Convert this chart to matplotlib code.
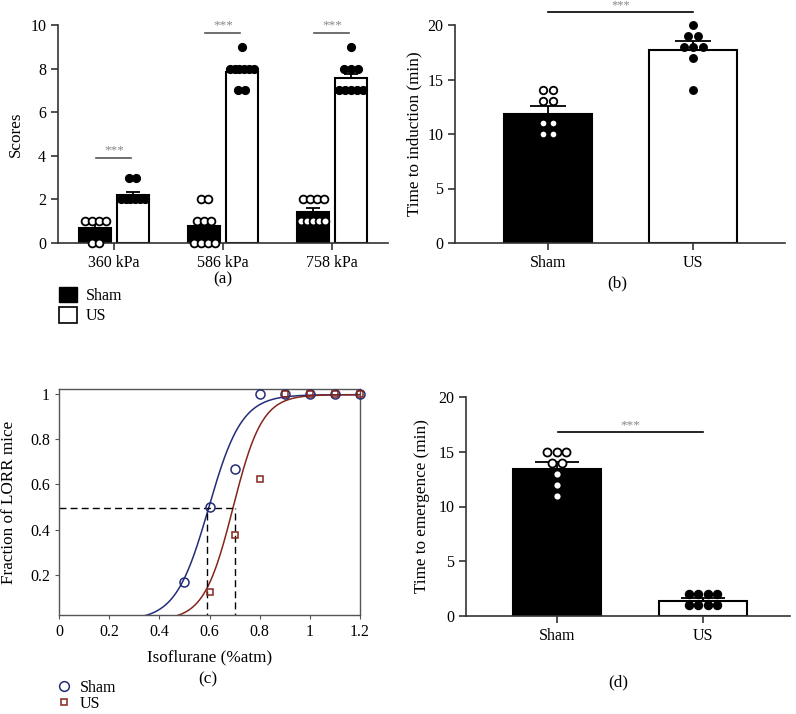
import numpy as np
import matplotlib
matplotlib.use('Agg')
import matplotlib.pyplot as plt
from matplotlib.patches import Patch
from matplotlib.lines import Line2D

plt.rcParams['font.family'] = ['Liberation Serif', 'DejaVu Serif']
plt.rcParams['font.size'] = 11

W, H = 796, 714

# ---- data ----
# (a) scores
PRESSURES = ['360 kPa', '586 kPa', '758 kPa']
SCORE_SHAM_MEAN = [0.67, 0.80, 1.42]
SCORE_SHAM_SEM = [0.20, 0.25, 0.18]
SCORE_US_MEAN = [2.20, 7.83, 7.57]
SCORE_US_SEM = [0.13, 0.20, 0.18]
SCORE_SHAM_PTS = [[1, 1, 1, 1, 0, 0],
                  [2, 2, 1, 1, 1, 0, 0, 0, 0],
                  [2, 2, 2, 2, 1, 1, 1, 1, 1]]
SCORE_US_PTS = [[3, 3, 2, 2, 2, 2, 2, 2],
                [9, 8, 8, 8, 8, 8, 8, 7, 7],
                [9, 8, 8, 8, 7, 7, 7, 7, 7]]

# (b) time to induction
GROUPS = ['Sham', 'US']
INDUCTION_MEAN = [11.83, 17.7]
INDUCTION_SEM = [0.74, 0.83]
INDUCTION_PTS = [[14, 14, 13, 13, 11, 11, 10, 10],
                 [20, 19, 19, 18, 18, 18, 17, 14]]

# (c) dose-response
ISO_SHAM = [0.5, 0.6, 0.7, 0.8, 0.9, 1.0, 1.1, 1.2]
LORR_SHAM = [0.167, 0.5, 0.667, 1.0, 1.0, 1.0, 1.0, 1.0]
ISO_US = [0.6, 0.7, 0.8, 0.9, 1.0, 1.1, 1.2]
LORR_US = [0.125, 0.375, 0.625, 1.0, 1.0, 1.0, 1.0]
FIT_TOP = 0.995
SHAM_EC50, SHAM_WIDTH = 0.597, 0.066
US_EC50, US_WIDTH = 0.694, 0.058
EC50_MARKS = [0.59, 0.70]

# (d) time to emergence
EMERGENCE_MEAN = [13.42, 1.37]
EMERGENCE_SEM = [0.67, 0.30]
EMERGENCE_PTS = [[15, 15, 15, 14, 14, 13, 12, 11],
                 [2, 2, 2, 2, 1, 1, 1, 1]]

NAVY = '#232d78'
BROWN = '#84261c'
SPINE = '#333333'
LABEL_FS = 12.3
TICK_FS = 11.5


def box(l, t, r, b):
    return [l / W, 1 - b / H, (r - l) / W, (b - t) / H]


def spread(center, values, step, bar_w, d):
    """GraphPad-like horizontal spread of equal values."""
    xs, ys = [], []
    vals = np.array(values)
    for v in sorted(set(values), reverse=True):
        n = int((vals == v).sum())
        s = step if n == 1 else min(step, (bar_w - d) / (n - 1))
        for i in range(n):
            xs.append(center + (i - (n - 1) / 2) * s)
            ys.append(v)
    return xs, ys


def style_bar_axes(ax):
    for side in ['top', 'right']:
        ax.spines[side].set_visible(False)
    for side in ['left', 'bottom']:
        ax.spines[side].set_linewidth(1.2)
        ax.spines[side].set_color(SPINE)
    ax.tick_params(direction='out', length=5, width=1.2, color=SPINE, labelsize=TICK_FS)


def draw_group(ax, x, mean, sem, pts, face, width, cap, step, d_units, ms):
    ax.bar(x, mean, width=width, color=face, edgecolor='black', linewidth=1.5, zorder=2)
    ax.errorbar(x, mean, yerr=[[0], [sem]], fmt='none', ecolor='black',
                elinewidth=1.3, capsize=cap, capthick=1.3, zorder=3)
    xs, ys = spread(x, pts, step, width, d_units)
    if face == 'black':
        ax.plot(xs, ys, 'o', ms=ms, mfc='white', mec='black', mew=1.3, zorder=4, clip_on=False)
    else:
        ax.plot(xs, ys, 'o', ms=ms, mfc='black', mec='black', mew=1.0, zorder=4, clip_on=False)


fig = plt.figure(figsize=(W / 100, H / 100), dpi=100)

# ---------- (a) ----------
axa = fig.add_axes(box(58, 25, 388, 243))
ppu = 109.0
bw = 0.29
d = 8 / ppu
for i in range(len(PRESSURES)):
    draw_group(axa, i - 0.172, SCORE_SHAM_MEAN[i], SCORE_SHAM_SEM[i], SCORE_SHAM_PTS[i],
               'black', bw, 5, 7 / ppu, d, 5.6)
    draw_group(axa, i + 0.172, SCORE_US_MEAN[i], SCORE_US_SEM[i], SCORE_US_PTS[i],
               'white', bw, 5, 7 / ppu, d, 5.6)
axa.set_xlim(-0.514, 2.514)
axa.set_ylim(0, 10)
axa.set_yticks(range(0, 11, 2))
axa.set_xticks(range(3))
axa.set_xticklabels(PRESSURES)
axa.set_ylabel('Scores', fontsize=LABEL_FS)
axa.yaxis.set_label_coords(-0.103, 0.5)
style_bar_axes(axa)
sig_a = [3.9, 9.65, 9.65]
for i, y in enumerate(sig_a):
    axa.plot([i - 0.165, i + 0.16], [y, y], color='#555555', lw=1.2, clip_on=False)
    axa.text(i, y + 0.08, '***', ha='center', va='bottom', fontsize=9.5, color='#888888')

# ---------- (b) ----------
axb = fig.add_axes(box(455, 25, 785, 243))
ppu = 145.0
bw = 0.607
d = 7.5 / ppu
for i in range(2):
    draw_group(axb, i, INDUCTION_MEAN[i], INDUCTION_SEM[i], INDUCTION_PTS[i],
               'black' if i == 0 else 'white', bw, 13, 9.5 / ppu, d, 5.4)
axb.set_xlim(-0.641, 1.634)
axb.set_ylim(0, 20)
axb.set_yticks(range(0, 21, 5))
axb.set_xticks([0, 1])
axb.set_xticklabels(GROUPS)
axb.set_ylabel('Time to induction (min)', fontsize=LABEL_FS)
axb.yaxis.set_label_coords(-0.1, 0.5)
style_bar_axes(axb)
axb.plot([0, 1], [21.2, 21.2], color='black', lw=1.2, clip_on=False)
axb.text(0.5, 21.22, '***', ha='center', va='bottom', fontsize=9, color='#888888', clip_on=False)

# ---------- (c) ----------
axc = fig.add_axes(box(59, 389, 360, 615))
xx = np.linspace(0, 1.2, 400)
axc.plot(xx, FIT_TOP / (1 + np.exp(-(xx - SHAM_EC50) / SHAM_WIDTH)), color=NAVY, lw=1.1)
axc.plot(xx, FIT_TOP / (1 + np.exp(-(xx - US_EC50) / US_WIDTH)), color=BROWN, lw=1.1)
axc.plot([0, EC50_MARKS[1]], [0.497, 0.497], color='black', lw=1.0, ls=(0, (5, 3)))
for xm in EC50_MARKS:
    axc.plot([xm, xm], [0, 0.497], color='black', lw=1.0, ls=(0, (5, 3)))
axc.plot(ISO_SHAM, LORR_SHAM, 'o', ms=6.5, mfc='none', mec=NAVY, mew=1.1, clip_on=False, zorder=4)
axc.plot(ISO_US, LORR_US, 's', ms=4.3, mfc='none', mec=BROWN, mew=1.1, clip_on=False, zorder=4)
axc.set_xlim(0, 1.2)
axc.set_ylim(0.0236, 1.02)
axc.set_xticks([0, 0.2, 0.4, 0.6, 0.8, 1.0, 1.2])
axc.set_xticklabels(['0', '0.2', '0.4', '0.6', '0.8', '1', '1.2'])
axc.set_yticks([0.2, 0.4, 0.6, 0.8, 1.0])
axc.set_yticklabels(['0.2', '0.4', '0.6', '0.8', '1'])
for s in axc.spines.values():
    s.set_linewidth(1.0)
    s.set_color('#555555')
axc.tick_params(direction='out', length=3, width=0.8, color='#555555', labelsize=TICK_FS)
axc.set_xlabel('Isoflurane (%atm)', fontsize=LABEL_FS, labelpad=7)
axc.set_ylabel('Fraction of LORR mice', fontsize=LABEL_FS)
axc.yaxis.set_label_coords(-0.14, 0.5)

# ---------- (d) ----------
axd = fig.add_axes(box(466, 397, 790, 616))
ppu = 146.0
bw = 0.603
d = 8 / ppu
for i in range(2):
    draw_group(axd, i, EMERGENCE_MEAN[i], EMERGENCE_SEM[i], EMERGENCE_PTS[i],
               'black' if i == 0 else 'white', bw, 16, 9.5 / ppu, d, 5.8)
axd.set_xlim(-0.623, 1.596)
axd.set_ylim(0, 20)
axd.set_yticks(range(0, 21, 5))
axd.set_xticks([0, 1])
axd.set_xticklabels(GROUPS)
axd.set_ylabel('Time to emergence (min)', fontsize=LABEL_FS)
axd.yaxis.set_label_coords(-0.111, 0.5)
style_bar_axes(axd)
axd.plot([0.01, 1.0], [16.8, 16.8], color='black', lw=1.2)
axd.text(0.5, 16.9, '***', ha='center', va='bottom', fontsize=9.5, color='#888888')

# ---------- panel letters ----------
fig.text(223 / W, 1 - 279 / H, '(a)', ha='center', va='center', fontsize=LABEL_FS)
fig.text(617 / W, 1 - 283 / H, '(b)', ha='center', va='center', fontsize=LABEL_FS)
fig.text(208 / W, 1 - 679 / H, '(c)', ha='center', va='center', fontsize=LABEL_FS)
fig.text(618 / W, 1 - 682 / H, '(d)', ha='center', va='center', fontsize=LABEL_FS)

# ---------- legends ----------
bar_handles = [Patch(facecolor='black', edgecolor='black'),
               Patch(facecolor='white', edgecolor='black', linewidth=1.2)]
fig.legend(bar_handles, GROUPS, loc='upper left', bbox_to_anchor=(51 / W, 1 - 279 / H),
           frameon=False, fontsize=TICK_FS, handlelength=1.1, handleheight=1.1,
           handletextpad=0.6, labelspacing=0.2, borderpad=0)

curve_handles = [Line2D([], [], ls='none', marker='o', ms=7, mfc='none', mec=NAVY, mew=1.1),
                 Line2D([], [], ls='none', marker='s', ms=4.5, mfc='none', mec=BROWN, mew=1.1)]
fig.legend(curve_handles, GROUPS, loc='upper left', bbox_to_anchor=(48 / W, 1 - 672 / H),
           frameon=False, fontsize=TICK_FS, handlelength=1.0, handletextpad=0.5,
           labelspacing=0.0, borderpad=0)

fig.savefig('out.png', dpi=100)
